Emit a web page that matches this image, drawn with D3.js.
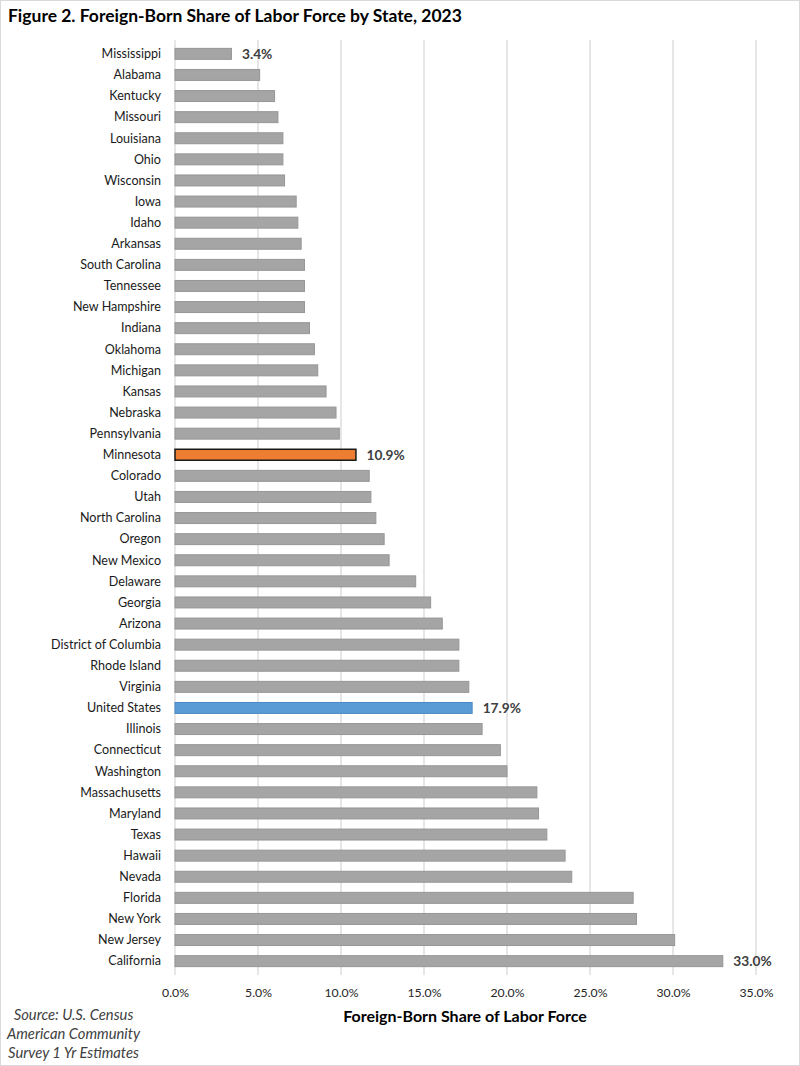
<!DOCTYPE html>
<html>
<head>
<meta charset="utf-8">
<script src="https://cdn.jsdelivr.net/npm/d3@7"></script>
<style>
  html, body { margin: 0; padding: 0; background: #fff; }
  svg { display: block; }
</style>
</head>
<body>
<svg id="chart" width="800" height="1066"></svg>
<script>
const states = ["Mississippi","Alabama","Kentucky","Missouri","Louisiana","Ohio","Wisconsin","Iowa","Idaho","Arkansas","South Carolina","Tennessee","New Hampshire","Indiana","Oklahoma","Michigan","Kansas","Nebraska","Pennsylvania","Minnesota","Colorado","Utah","North Carolina","Oregon","New Mexico","Delaware","Georgia","Arizona","District of Columbia","Rhode Island","Virginia","United States","Illinois","Connecticut","Washington","Massachusetts","Maryland","Texas","Hawaii","Nevada","Florida","New York","New Jersey","California"];
const shares = [3.4,5.1,6.0,6.2,6.5,6.5,6.6,7.3,7.4,7.6,7.8,7.8,7.8,8.1,8.4,8.6,9.1,9.7,9.9,10.9,11.7,11.8,12.1,12.6,12.9,14.5,15.4,16.1,17.1,17.1,17.7,17.9,18.5,19.6,20.0,21.8,21.9,22.4,23.5,23.9,27.6,27.8,30.1,33.0];
const labelledStates = ["Mississippi","Minnesota","United States","California"];
const xTicks = [0,5,10,15,20,25,30,35];
const titleText = "Figure 2. Foreign-Born Share of Labor Force by State, 2023";
const axisTitle = "Foreign-Born Share of Labor Force";
const sourceLines = ["Source: U.S. Census","American Community","Survey 1 Yr Estimates"];

const svg = d3.select("#chart");
const FONT = "Lato, Carlito, Calibri, 'Liberation Sans', sans-serif";

// fit a font size so that a sample string reaches a target width
function fitSize(sample, target, weight, style) {
  const t = svg.append("text").attr("font-family", FONT).attr("font-size", 100)
    .attr("font-weight", weight || "normal").attr("font-style", style || "normal").text(sample);
  const w = t.node().getComputedTextLength();
  t.remove();
  return 100 * target / w;
}
const catSize = fitSize("District of Columbia", 110);
const titleSize = fitSize(titleText, 454, "bold");
const tickSize = fitSize("35.0%", 34);
const axisTitleSize = fitSize(axisTitle, 244, "bold");
const dataSize = fitSize("33.0%", 38.4, "bold");
const srcSize = fitSize("Survey 1 Yr Estimates", 131, "normal", "italic");

// border
svg.append("rect").attr("x", 0.5).attr("y", 0.5).attr("width", 799).attr("height", 1065)
  .attr("fill", "#fff").attr("stroke", "#d9d9d9");

const x = d3.scaleLinear().domain([0, 35]).range([175, 756]);
const y = d3.scaleBand().domain(states).range([43.3, 971.7]).paddingInner(0.48).paddingOuter(0.24);

// gridlines
svg.append("g").selectAll("line").data(xTicks.slice(1)).join("line")
  .attr("x1", d => x(d)).attr("x2", d => x(d))
  .attr("y1", 40).attr("y2", 975)
  .attr("stroke", "#d9d9d9").attr("stroke-width", 1.3);
// left axis line
svg.append("line").attr("x1", x(0)).attr("x2", x(0)).attr("y1", 40).attr("y2", 975)
  .attr("stroke", "#d9d9d9").attr("stroke-width", 1.3);

function fillOf(s) {
  if (s === "Minnesota") return "#ed7d31";
  if (s === "United States") return "#5b9bd5";
  return "#a5a5a5";
}
function strokeOf(s) {
  if (s === "Minnesota") return "#1a1a1a";
  if (s === "United States") return "#4a89c3";
  return "#969696";
}

const data = states.map((s, i) => ({ state: s, value: shares[i] }));

svg.append("g").selectAll("rect").data(data).join("rect")
  .attr("x", x(0))
  .attr("y", d => y(d.state))
  .attr("width", d => x(d.value) - x(0))
  .attr("height", y.bandwidth())
  .attr("fill", d => fillOf(d.state))
  .attr("stroke", d => strokeOf(d.state))
  .attr("stroke-width", d => d.state === "Minnesota" ? 1.5 : 1);

// category axis
const yAxis = svg.append("g").attr("transform", `translate(${x(0)},0)`)
  .call(d3.axisLeft(y).tickSize(0).tickPadding(14));
yAxis.select(".domain").remove();
yAxis.selectAll("text").attr("font-family", FONT).attr("font-size", catSize)
  .attr("fill", "#1a1a1a").attr("dy", "0.34em");

// x axis labels
const xAxis = svg.append("g").attr("transform", "translate(0,975)")
  .call(d3.axisBottom(x).tickValues(xTicks).tickSize(0).tickPadding(13).tickFormat(d => d.toFixed(1) + "%"));
xAxis.select(".domain").remove();
xAxis.selectAll("text").attr("font-family", FONT).attr("font-size", tickSize).attr("fill", "#262626");

// data labels
svg.append("g").selectAll("text").data(data.filter(d => labelledStates.includes(d.state))).join("text")
  .attr("x", d => x(d.value) + 10.5)
  .attr("y", d => y(d.state) + y.bandwidth() / 2)
  .attr("dy", "0.36em")
  .attr("font-family", FONT).attr("font-size", dataSize).attr("font-weight", "bold")
  .attr("fill", "#404040")
  .text(d => d.value.toFixed(1) + "%");

// title
svg.append("text").attr("x", 8).attr("y", 21.5)
  .attr("font-family", FONT).attr("font-size", titleSize).attr("font-weight", "bold")
  .attr("fill", "#000").text(titleText);

// axis title
svg.append("text").attr("x", 465).attr("y", 1022).attr("text-anchor", "middle")
  .attr("font-family", FONT).attr("font-size", axisTitleSize).attr("font-weight", "bold")
  .attr("fill", "#000").text(axisTitle);

// source
svg.append("g").selectAll("text").data(sourceLines).join("text")
  .attr("x", 73.5).attr("y", (d, i) => 1020 + i * 19)
  .attr("text-anchor", "middle")
  .attr("font-family", FONT).attr("font-size", srcSize).attr("font-style", "italic")
  .attr("fill", "#404040").text(d => d);
</script>
</body>
</html>
